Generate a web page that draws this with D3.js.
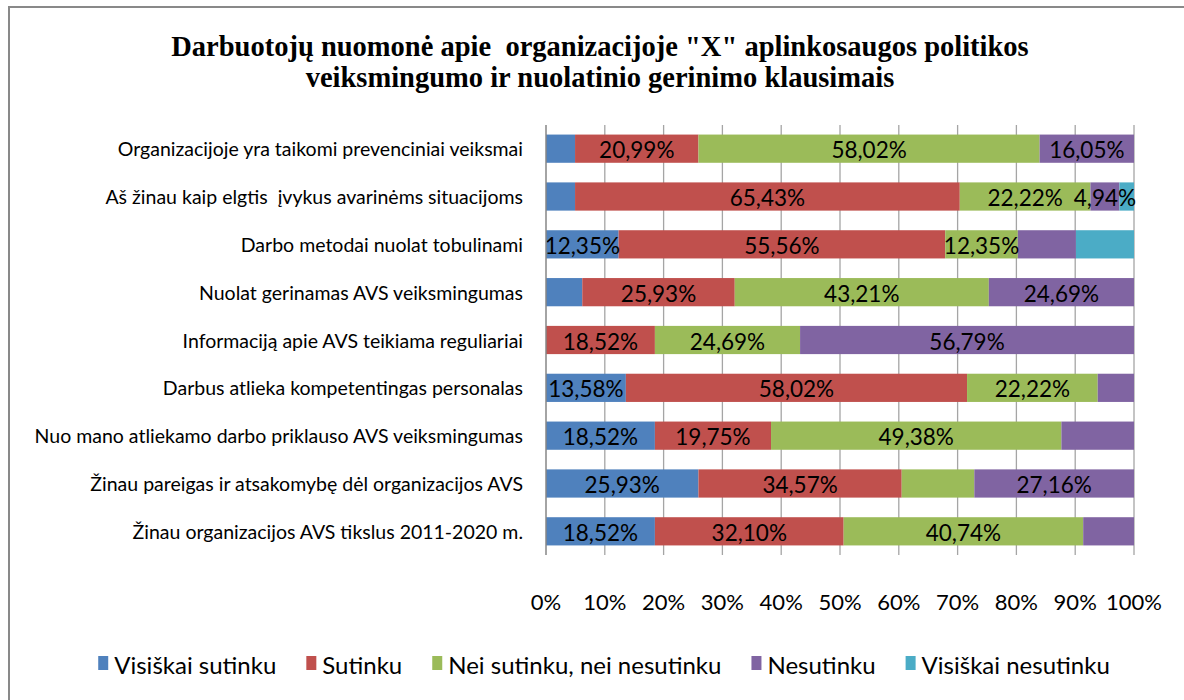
<!DOCTYPE html>
<html>
<head>
<meta charset="utf-8">
<script src="https://cdn.jsdelivr.net/npm/d3@7.9.0/dist/d3.min.js"></script>
<style>
  body { margin: 0; background: #fff; }
  svg { display: block; }
  text { font-family: Lato, "Open Sans", sans-serif; fill: #000; white-space: pre; }
  .title { font-family: "Liberation Serif", "Times New Roman", serif; font-weight: bold; font-size: 28.5px; }
</style>
</head>
<body>
<svg id="chart" width="1184" height="700"></svg>
<script>
const categories = [
  'Organizacijoje yra taikomi prevenciniai veiksmai',
  'Aš žinau kaip elgtis  įvykus avarinėms situacijoms',
  'Darbo metodai nuolat tobulinami',
  'Nuolat gerinamas AVS veiksmingumas',
  'Informaciją apie AVS teikiama reguliariai',
  'Darbus atlieka kompetentingas personalas',
  'Nuo mano atliekamo darbo priklauso AVS veiksmingumas',
  'Žinau pareigas ir atsakomybę dėl organizacijos AVS',
  'Žinau organizacijos AVS tikslus 2011-2020 m.'
];
const seriesNames = ['Visiškai sutinku', 'Sutinku', 'Nei sutinku, nei nesutinku', 'Nesutinku', 'Visiškai nesutinku'];
const seriesColors = ['#4F81BD', '#C0504D', '#9BBB59', '#8064A2', '#4BACC6'];

// percentages, one array per answer
const visiskaiSutinku   = [4.94, 4.94, 12.35, 6.17, 0, 13.58, 18.52, 25.93, 18.52];
const sutinku           = [20.99, 65.43, 55.56, 25.93, 18.52, 58.02, 19.75, 34.57, 32.10];
const neiSutinku        = [58.02, 22.22, 12.35, 43.21, 24.69, 22.22, 49.38, 12.35, 40.74];
const nesutinku         = [16.05, 4.94, 9.88, 24.69, 56.79, 6.17, 12.35, 27.16, 8.64];
const visiskaiNesutinku = [0, 2.47, 9.88, 0, 0, 0, 0, 0, 0];

// which data labels are printed on the chart (1 = shown)
const labelsVisiskaiSutinku   = [0, 0, 1, 0, 0, 1, 1, 1, 1];
const labelsSutinku           = [1, 1, 1, 1, 1, 1, 1, 1, 1];
const labelsNeiSutinku        = [1, 1, 1, 1, 1, 1, 1, 0, 1];
const labelsNesutinku         = [1, 1, 0, 1, 1, 0, 0, 1, 0];
const labelsVisiskaiNesutinku = [0, 0, 0, 0, 0, 0, 0, 0, 0];

const xTicks = [0, 10, 20, 30, 40, 50, 60, 70, 80, 90, 100];
const title = ['Darbuotojų nuomonė apie  organizacijoje "X" aplinkosaugos politikos',
               'veiksmingumo ir nuolatinio gerinimo klausimais'];

const allValues = [visiskaiSutinku, sutinku, neiSutinku, nesutinku, visiskaiNesutinku];
const allShown = [labelsVisiskaiSutinku, labelsSutinku, labelsNeiSutinku, labelsNesutinku, labelsVisiskaiNesutinku];

const table = categories.map((c, i) => {
  let row = { category: c };
  seriesNames.forEach((s, j) => row[s] = allValues[j][i]);
  return row;
});

const svg = d3.select('#chart');

// outer chart border
svg.append('rect')
  .attr('x', 9).attr('y', 7)
  .attr('width', 1200).attr('height', 720)
  .attr('fill', 'none')
  .attr('stroke', '#898989')
  .attr('stroke-width', 2);

// title
svg.append('text')
  .attr('class', 'title')
  .attr('text-anchor', 'middle')
  .selectAll('tspan')
  .data(title)
  .join('tspan')
  .attr('x', 600)
  .attr('y', (d, i) => 56 + i * 31)
  .text(d => d);

const x = d3.scaleLinear().domain([0, 1]).range([546, 1134]);
const y = d3.scaleBand().domain(categories).range([125, 555]).paddingInner(0.41).paddingOuter(0.2);

// gridlines
svg.append('g')
  .selectAll('line')
  .data(xTicks.slice(1))
  .join('line')
  .attr('x1', d => x(d / 100)).attr('x2', d => x(d / 100))
  .attr('y1', 125).attr('y2', 555)
  .attr('stroke', '#a5a5a5')
  .attr('stroke-width', 1.3);

const stack = d3.stack().keys(seriesNames).offset(d3.stackOffsetExpand);
const series = stack(table);

const groups = svg.append('g')
  .selectAll('g')
  .data(series)
  .join('g')
  .attr('fill', (d, i) => seriesColors[i]);

groups.selectAll('rect')
  .data(d => d)
  .join('rect')
  .attr('x', d => x(d[0]))
  .attr('y', d => y(d.data.category))
  .attr('width', d => x(d[1]) - x(d[0]))
  .attr('height', y.bandwidth());

// data labels
const fmt = v => v.toFixed(2).replace('.', ',') + '%';
series.forEach((s, j) => {
  svg.append('g')
    .selectAll('text')
    .data(s.filter((d, i) => allShown[j][i]))
    .join('text')
    .attr('x', d => x((d[0] + d[1]) / 2))
    .attr('y', d => y(d.data.category) + y.bandwidth() / 2 + 1)
    .attr('text-anchor', 'middle')
    .attr('dominant-baseline', 'central')
    .attr('font-size', 22.5)
    .text(d => fmt(d.data[s.key]));
});

// vertical axis line
svg.append('line')
  .attr('x1', x(0)).attr('x2', x(0))
  .attr('y1', 125).attr('y2', 555)
  .attr('stroke', '#868686')
  .attr('stroke-width', 1.5);

// category labels
svg.append('g')
  .selectAll('text')
  .data(categories)
  .join('text')
  .attr('x', 523)
  .attr('y', d => y(d) + y.bandwidth() / 2)
  .attr('text-anchor', 'end')
  .attr('dominant-baseline', 'central')
  .attr('font-size', 19.5)
  .text(d => d);

// x tick labels
svg.append('g')
  .selectAll('text')
  .data(xTicks)
  .join('text')
  .attr('x', d => x(d / 100))
  .attr('y', 601)
  .attr('text-anchor', 'middle')
  .attr('dominant-baseline', 'central')
  .attr('font-size', 22)
  .text(d => d + '%');

// legend
const legend = svg.append('g');
const gap = 30;
let lx = 0;
seriesNames.forEach((name, i) => {
  const item = legend.append('g').attr('transform', `translate(${lx},0)`);
  item.append('rect')
    .attr('x', 0).attr('y', -7)
    .attr('width', 10).attr('height', 14)
    .attr('fill', seriesColors[i]);
  const t = item.append('text')
    .attr('x', 16).attr('y', 1)
    .attr('dominant-baseline', 'central')
    .attr('font-size', 24)
    .text(name);
  lx += 16 + t.node().getComputedTextLength() + gap;
});
const legendWidth = lx - gap;
legend.attr('transform', `translate(${604 - legendWidth / 2},663)`);
</script>
</body>
</html>
